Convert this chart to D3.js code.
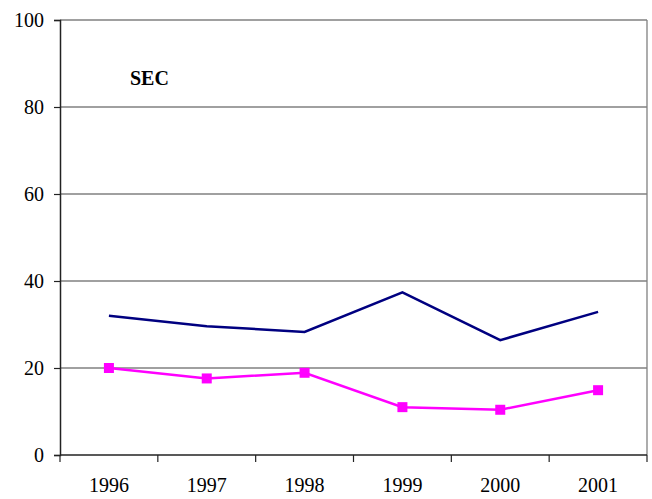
<!DOCTYPE html>
<html>
<head>
<meta charset="utf-8">
<script src="https://cdn.jsdelivr.net/npm/d3@7"></script>
<style>
  body { margin: 0; background: #fff; }
  svg text { font-family: "Liberation Serif", "Times New Roman", serif !important; fill: #000; }
</style>
</head>
<body>
<div id="chart"></div>
<script>
var years = ["1996", "1997", "1998", "1999", "2000", "2001"];
var navySeries = [32.0, 29.6, 28.3, 37.4, 26.4, 32.9];
var pinkSeries = [20.0, 17.6, 18.9, 11.0, 10.4, 14.9];
var yTicks = [0, 20, 40, 60, 80, 100];

var width = 652, height = 499;
var margin = {top: 20, right: 5, bottom: 44, left: 60};

var svg = d3.select("#chart").append("svg")
    .attr("width", width)
    .attr("height", height);

var x = d3.scaleBand()
    .domain(years)
    .range([margin.left, width - margin.right]);

var y = d3.scaleLinear()
    .domain([0, 100])
    .range([height - margin.bottom, margin.top]);

// gridlines
svg.append("g").selectAll("line")
    .data(yTicks.filter(function(d){ return d > 0; }))
    .enter().append("line")
    .attr("x1", margin.left)
    .attr("x2", width - margin.right)
    .attr("y1", function(d){ return y(d); })
    .attr("y2", function(d){ return y(d); })
    .attr("stroke", "#808080")
    .attr("stroke-width", 1.3);

// right border
svg.append("line")
    .attr("x1", width - margin.right).attr("x2", width - margin.right)
    .attr("y1", y(100)).attr("y2", y(0))
    .attr("stroke", "#808080")
    .attr("stroke-width", 1.3);

// y axis
var yAxis = svg.append("g")
    .attr("transform", "translate(" + margin.left + ",0)")
    .call(d3.axisLeft(y).tickValues(yTicks).tickSize(6).tickPadding(10));
yAxis.attr("font-family", null);
yAxis.select(".domain").attr("stroke", "#222").attr("stroke-width", 1.5);
yAxis.selectAll(".tick line").attr("stroke", "#222").attr("stroke-width", 1.2);
yAxis.selectAll("text")
    .attr("font-size", 20)
    .attr("fill", "#000");

// x axis with ticks between categories
var xAxisG = svg.append("g")
    .attr("transform", "translate(0," + y(0) + ")");
xAxisG.append("line")
    .attr("x1", margin.left).attr("x2", width - margin.right)
    .attr("stroke", "#222").attr("stroke-width", 1.5);
var edges = years.map(function(d){ return x(d); }).concat([x(years[years.length - 1]) + x.bandwidth()]);
xAxisG.selectAll("line.tk")
    .data(edges)
    .enter().append("line")
    .attr("class", "tk")
    .attr("x1", function(d){ return d; })
    .attr("x2", function(d){ return d; })
    .attr("y1", 0).attr("y2", 7)
    .attr("stroke", "#222").attr("stroke-width", 1.2);
xAxisG.selectAll("text")
    .data(years)
    .enter().append("text")
    .attr("x", function(d){ return x(d) + x.bandwidth() / 2; })
    .attr("y", 37)
    .attr("text-anchor", "middle")
    .attr("font-size", 20)
    .text(function(d){ return d; });

var cx = function(d, i){ return x(years[i]) + x.bandwidth() / 2; };

var line = d3.line()
    .x(cx)
    .y(function(d){ return y(d); });

svg.append("path")
    .datum(navySeries)
    .attr("d", line)
    .attr("fill", "none")
    .attr("stroke", "#000080")
    .attr("stroke-width", 2.5);

svg.append("path")
    .datum(pinkSeries)
    .attr("d", line)
    .attr("fill", "none")
    .attr("stroke", "#ff00ff")
    .attr("stroke-width", 2.5);

svg.append("g").selectAll("rect")
    .data(pinkSeries)
    .enter().append("rect")
    .attr("x", function(d, i){ return cx(d, i) - 5; })
    .attr("y", function(d){ return y(d) - 5; })
    .attr("width", 10)
    .attr("height", 10)
    .attr("fill", "#ff00ff");

svg.append("text")
    .attr("x", 130)
    .attr("y", 85)
    .attr("font-size", 20)
    .attr("font-weight", "bold")
    .text("SEC");
</script>
</body>
</html>
